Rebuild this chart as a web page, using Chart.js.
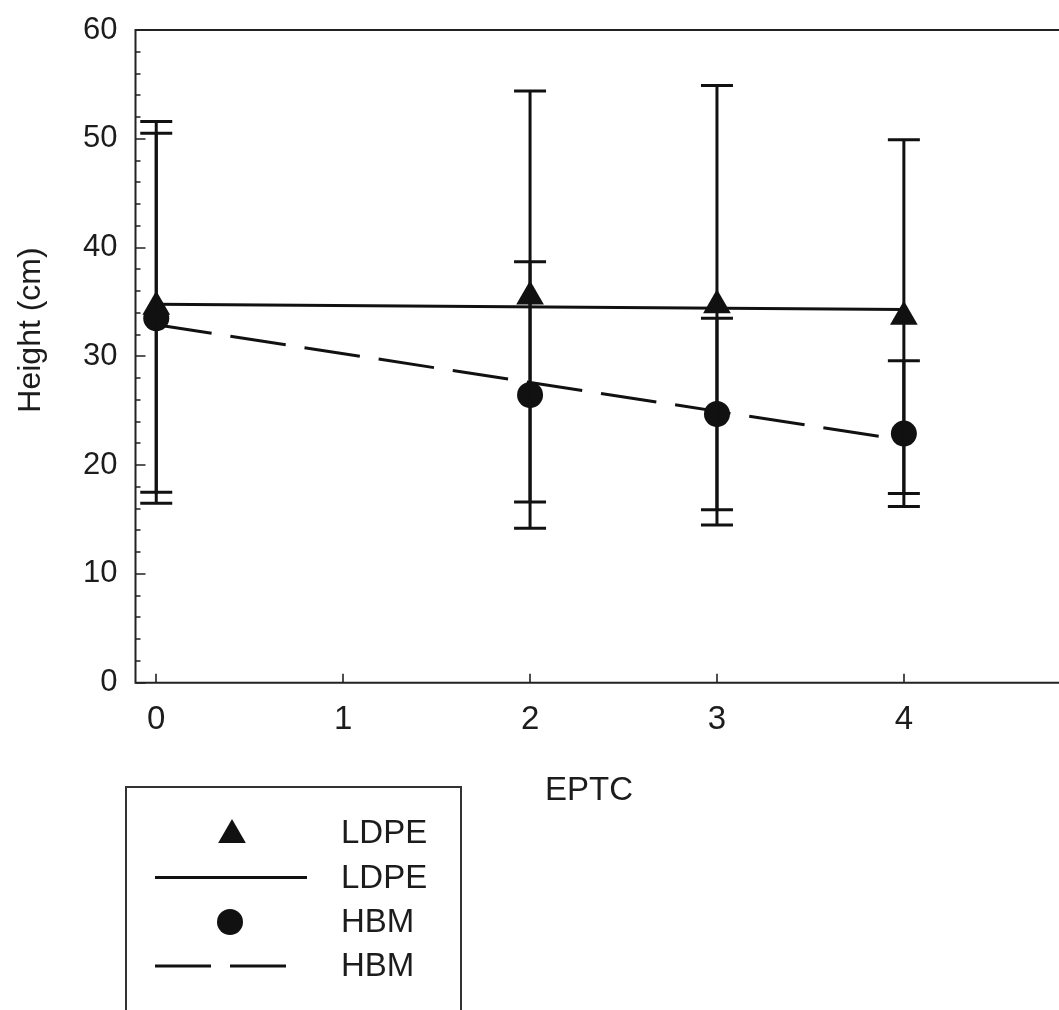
<!DOCTYPE html>
<html><head><meta charset="utf-8">
<script src="https://cdn.jsdelivr.net/npm/chart.js@4/dist/chart.umd.min.js"></script>
<style>html,body{margin:0;padding:0;background:#fff;overflow:hidden}#wrap{width:1059px;height:1010px;position:relative}canvas{display:block}</style>
</head><body><div id="wrap"><canvas id="c"></canvas></div>
<script>
// ---- data ----
const doses = [0, 2, 3, 4];
const ldpeMeans = [34.55, 35.5, 34.7, 33.65];
const ldpeErrors = [17.05, 18.9, 20.2, 16.25];
const hbmMeans = [33.5, 26.45, 24.7, 22.9];
const hbmErrors = [17.0, 12.25, 8.8, 6.7];
const fitX = [0, 4];
const ldpeFit = [34.8, 34.3];
const hbmFit = [32.9, 22.3];
const xTicks = [0, 1, 2, 3, 4];
const yTicks = [0, 10, 20, 30, 40, 50, 60];
const yMinorTicks = [2,4,6,8,12,14,16,18,22,24,26,28,32,34,36,38,42,44,46,48,52,54,56,58];
const seriesNames = ['LDPE', 'HBM'];
const xTitle = 'EPTC';
const yTitle = 'Height (cm)';

const INK = '#111';
const TXT = '#1c1c1c';
const FONT = '"Liberation Sans", Arial, sans-serif';

const pts = (xs, ys) => xs.map((x, i) => ({x: x, y: ys[i]}));

const errorBars = {
  id: 'errorBars',
  afterDatasetsDraw(chart) {
    const {ctx, scales: {x, y}} = chart;
    ctx.save();
    ctx.strokeStyle = INK;
    ctx.lineWidth = 3;
    chart.data.datasets.forEach((ds) => {
      if (!ds.errors) return;
      ds.data.forEach((p, i) => {
        const e = ds.errors[i];
        const px = x.getPixelForValue(p.x);
        const t = y.getPixelForValue(p.y + e);
        const b = y.getPixelForValue(p.y - e);
        ctx.beginPath();
        ctx.moveTo(px, t); ctx.lineTo(px, b);
        ctx.moveTo(px - 16, t); ctx.lineTo(px + 16, t);
        ctx.moveTo(px - 16, b); ctx.lineTo(px + 16, b);
        ctx.stroke();
      });
    });
    ctx.restore();
  }
};

function drawTri(ctx, cx, cy, r) {
  ctx.beginPath();
  let rad = 0;
  ctx.moveTo(cx + Math.sin(rad) * r, cy - Math.cos(rad) * r);
  rad += Math.PI * 2 / 3;
  ctx.lineTo(cx + Math.sin(rad) * r, cy - Math.cos(rad) * r);
  rad += Math.PI * 2 / 3;
  ctx.lineTo(cx + Math.sin(rad) * r, cy - Math.cos(rad) * r);
  ctx.closePath();
  ctx.fill();
}

const frame = {
  id: 'frame',
  afterDraw(chart) {
    const {ctx, chartArea: {left, top, right, bottom}, scales: {x, y}} = chart;
    ctx.save();
    ctx.strokeStyle = '#222';
    ctx.lineWidth = 2;
    ctx.beginPath();
    ctx.moveTo(right, top); ctx.lineTo(left, top); ctx.lineTo(left, bottom); ctx.lineTo(right, bottom);
    ctx.stroke();
    ctx.lineWidth = 1.6;
    ctx.beginPath();
    yTicks.forEach(v => { const py = Math.round(y.getPixelForValue(v)); ctx.moveTo(left, py); ctx.lineTo(left + 10, py); });
    yMinorTicks.forEach(v => { const py = Math.round(y.getPixelForValue(v)); ctx.moveTo(left, py); ctx.lineTo(left + 5, py); });
    xTicks.forEach(v => { const px = Math.round(x.getPixelForValue(v)); ctx.moveTo(px, bottom); ctx.lineTo(px, bottom - 9); });
    ctx.stroke();

    // axis titles
    ctx.fillStyle = TXT;
    ctx.textAlign = 'center';
    ctx.textBaseline = 'middle';
    ctx.font = '33px ' + FONT;
    ctx.fillText(xTitle, 589, 791);
    ctx.save();
    ctx.translate(31, 330);
    ctx.rotate(-Math.PI / 2);
    ctx.font = '32px ' + FONT;
    ctx.fillText(yTitle, 0, 0);
    ctx.restore();

    // legend box
    ctx.strokeStyle = '#333';
    ctx.lineWidth = 2;
    ctx.strokeRect(126, 787, 335, 260);
    const rows = [833, 877.5, 922, 966];
    const dsets = chart.data.datasets;
    ctx.fillStyle = INK;
    drawTri(ctx, 232, rows[0] + 2, 16);
    ctx.strokeStyle = INK;
    ctx.lineWidth = dsets[1].borderWidth;
    ctx.beginPath(); ctx.moveTo(155, rows[1]); ctx.lineTo(307, rows[1]); ctx.stroke();
    ctx.beginPath(); ctx.arc(230, rows[2], 13, 0, Math.PI * 2); ctx.fill();
    ctx.setLineDash(dsets[3].borderDash);
    ctx.beginPath(); ctx.moveTo(155, rows[3]); ctx.lineTo(286, rows[3]); ctx.stroke();
    ctx.setLineDash([]);
    ctx.fillStyle = TXT;
    ctx.textAlign = 'left';
    ctx.font = '33px ' + FONT;
    [dsets[0].label, dsets[1].label, dsets[2].label, dsets[3].label].forEach((t, i) => ctx.fillText(t, 341, rows[i] + 1));
    ctx.restore();
  }
};

const noPad = s => { s.paddingTop = 0; s.paddingBottom = 0; s.paddingLeft = 0; s.paddingRight = 0; };

new Chart(document.getElementById('c'), {
  type: 'scatter',
  data: {
    datasets: [
      {label: seriesNames[0], data: pts(doses, ldpeMeans), errors: ldpeErrors, pointStyle: 'triangle',
       pointRadius: 16, pointHoverRadius: 16, backgroundColor: INK, borderWidth: 0, showLine: false, order: 1},
      {label: seriesNames[0], data: pts(fitX, ldpeFit), showLine: true, borderColor: INK, borderWidth: 3,
       pointRadius: 0, order: 3},
      {label: seriesNames[1], data: pts(doses, hbmMeans), errors: hbmErrors, pointStyle: 'circle',
       pointRadius: 13, pointHoverRadius: 13, backgroundColor: INK, borderWidth: 0, showLine: false, order: 2},
      {label: seriesNames[1], data: pts(fitX, hbmFit), showLine: true, borderColor: INK, borderWidth: 3,
       borderDash: [56, 19], pointRadius: 0, order: 4}
    ]
  },
  options: {
    responsive: true,
    maintainAspectRatio: false,
    animation: false,
    events: [],
    layout: {autoPadding: false, padding: {top: 30, left: 0, right: 0, bottom: 0}},
    plugins: {legend: {display: false}, tooltip: {enabled: false}},
    scales: {
      x: {
        type: 'linear', min: -0.111, max: 4.83,
        grid: {display: false, drawTicks: false},
        border: {display: false},
        afterBuildTicks: s => { s.ticks = xTicks.map(v => ({value: v})); },
        afterFit: s => { s.height = 327.3; noPad(s); },
        ticks: {font: {size: 33, family: FONT}, color: TXT, padding: 17, maxRotation: 0, autoSkip: false}
      },
      y: {
        type: 'linear', min: 0, max: 60,
        grid: {display: false, drawTicks: false},
        border: {display: false},
        afterBuildTicks: s => { s.ticks = yTicks.map(v => ({value: v})); },
        afterFit: s => { s.width = 135.5; noPad(s); },
        ticks: {font: {size: 31, family: FONT}, color: TXT, padding: 18}
      }
    }
  },
  plugins: [errorBars, frame]
});
</script></body></html>
